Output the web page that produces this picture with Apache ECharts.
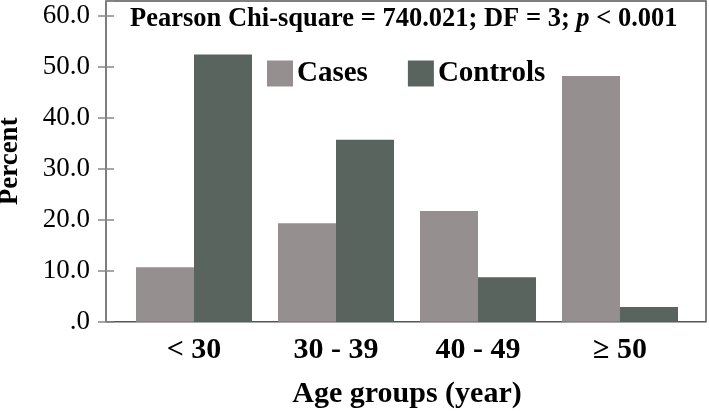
<!DOCTYPE html>
<html><head><meta charset="utf-8">
<script src="https://cdn.jsdelivr.net/npm/echarts@6/dist/echarts.min.js"></script>
<style>html,body{margin:0;padding:0;background:#fff}#c{width:709px;height:411px}</style>
</head><body><div id="c"></div>
<script>
const categories = ['< 30', '30 - 39', '40 - 49', '≥ 50'];
const casesValues = [10.7, 19.3, 21.7, 48.2];
const controlsValues = [52.4, 35.7, 8.7, 2.9];
const seriesNames = ['Cases', 'Controls'];
const FONT = 'Liberation Serif';
const chart = echarts.init(document.getElementById('c'), null, {renderer: 'canvas'});
const yMax = 62.9;
chart.setOption({
  animation: false,
  backgroundColor: '#fff',
  title: {
    left: 125, top: 1,
    text: '{b|Pearson Chi-square = 740.021; DF = 3; }{i|p}{b| < 0.001}',
    textStyle: {rich: {
      b: {fontFamily: FONT, fontWeight: 'bold', fontSize: 26.5, color: '#000'},
      i: {fontFamily: FONT, fontWeight: 'bold', fontStyle: 'italic', fontSize: 26.5, color: '#000'}
    }}
  },
  legend: {
    left: 262, top: 54, itemWidth: 26, itemHeight: 26, itemGap: 40,
    icon: 'rect',
    textStyle: {fontFamily: FONT, fontWeight: 'bold', fontSize: 29, color: '#000', padding: [0,0,0,-1]},
    data: seriesNames
  },
  grid: [
    {left: 123, top: 1, width: 568, height: 320.7, containLabel: false, outerBoundsMode: 'none'},
    {left: 106, top: 1, width: 600, height: 320.7, show: true, borderColor: '#555', borderWidth: 1.5,
     backgroundColor: 'transparent', outerBoundsMode: 'none'}
  ],
  xAxis: [
    {type: 'category', gridIndex: 0, data: categories,
     axisLine: {show: false}, axisTick: {show: false},
     axisLabel: {fontFamily: FONT, fontWeight: 'bold', fontSize: 30, color: '#000', margin: 14},
     name: 'Age groups (year)', nameLocation: 'middle', nameGap: 58,
     nameTextStyle: {fontFamily: FONT, fontWeight: 'bold', fontSize: 30, color: '#000'}},
    {type: 'value', gridIndex: 1, show: false, min: 0, max: 1}
  ],
  yAxis: [
    {type: 'value', gridIndex: 0, min: 0, max: yMax, interval: 10, offset: 17,
     axisLine: {show: false}, splitLine: {show: false},
     axisTick: {show: true, length: 8, lineStyle: {color: '#888', width: 1.5}},
     axisLabel: {fontFamily: FONT, fontSize: 27, color: '#000', margin: 16, showMaxLabel: false,
       formatter: v => v === 0 ? '.0' : v.toFixed(1)},
     name: 'Percent', nameLocation: 'middle', nameGap: 82, nameRotate: 90,
     nameTextStyle: {fontFamily: FONT, fontWeight: 'bold', fontSize: 27, color: '#000'}},
    {type: 'value', gridIndex: 1, min: 0, max: yMax, interval: 10,
     axisLine: {show: false}, splitLine: {show: false},
     axisTick: {show: true, inside: true, length: 8, lineStyle: {color: '#888', width: 1.5}},
     axisLabel: {show: false}}
  ],
  series: [
    {name: seriesNames[0], type: 'bar', xAxisIndex: 0, yAxisIndex: 0, data: casesValues,
     barWidth: 58, barGap: '0%', itemStyle: {color: '#968f8f'}},
    {name: seriesNames[1], type: 'bar', xAxisIndex: 0, yAxisIndex: 0, data: controlsValues,
     barWidth: 58, barGap: '0%', itemStyle: {color: '#5a645e'}}
  ]
});
</script></body></html>
